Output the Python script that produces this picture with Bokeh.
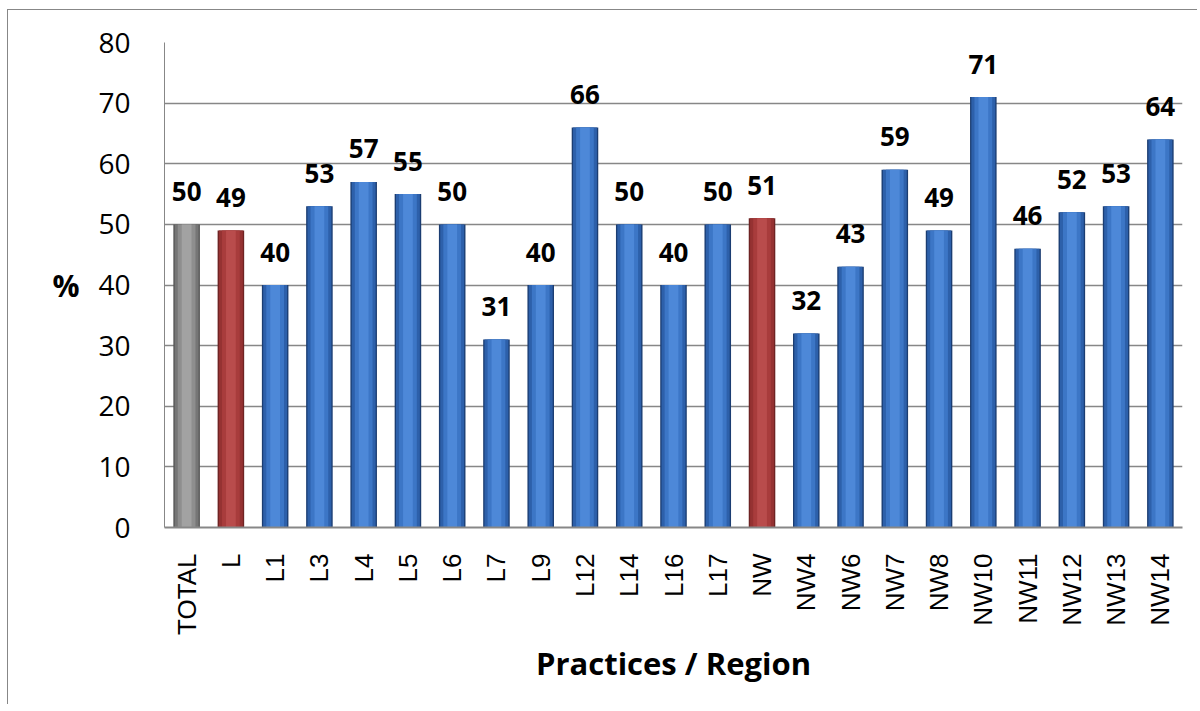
import math
from bokeh.plotting import figure
from bokeh.models import ColumnDataSource, FactorRange, Range1d, SingleIntervalTicker
from bokeh.core.properties import value
from bokeh.embed import file_html
from bokeh.resources import INLINE

categories = ["TOTAL", "L", "L1", "L3", "L4", "L5", "L6", "L7", "L9", "L12", "L14",
              "L16", "L17", "NW", "NW4", "NW6", "NW7", "NW8", "NW10", "NW11", "NW12",
              "NW13", "NW14"]
values = [50, 49, 40, 53, 57, 55, 50, 31, 40, 66, 50, 40, 50, 51, 32, 43, 59, 49,
          71, 46, 52, 53, 64]
groups = ["total", "region", "practice", "practice", "practice", "practice", "practice",
          "practice", "practice", "practice", "practice", "practice", "practice", "region",
          "practice", "practice", "practice", "practice", "practice", "practice",
          "practice", "practice", "practice"]

palette = {
    "total":    ("#555555", "#767676", "#8e8e8e", "#a2a2a2"),
    "region":   ("#6e2323", "#953232", "#a83c3c", "#b94c4c"),
    "practice": ("#1b3d72", "#2d60aa", "#3c76c6", "#4d88d8"),
}

src = ColumnDataSource(dict(
    cat=categories,
    val=values,
    lab=[str(v) for v in values],
    c0=[palette[g][0] for g in groups],
    c1=[palette[g][1] for g in groups],
    c2=[palette[g][2] for g in groups],
    c3=[palette[g][3] for g in groups],
))

p = figure(
    x_range=FactorRange(*categories),
    y_range=Range1d(0, 80),
    width=1190, height=695,
    output_backend="svg", toolbar_location=None,
    min_border_left=156, min_border_right=16,
    min_border_top=32, min_border_bottom=178,
)
p.styles = {"margin-left": "7px", "margin-top": "9px",
            "border-left": "1px solid #878787", "border-top": "1px solid #878787"}
p.outline_line_color = None
p.background_fill_color = "white"
p.border_fill_color = "white"

# bars: layered to imitate cylinder shading
p.vbar(x="cat", top="val", width=0.6, source=src, fill_color="c0", line_color=None)
p.vbar(x="cat", top="val", width=0.54, source=src, fill_color="c1", line_color=None)
p.vbar(x="cat", top="val", width=0.4, source=src, fill_color="c2", line_color=None)
p.vbar(x="cat", top="val", width=0.22, source=src, fill_color="c3", line_color=None)

p.text(x="cat", y="val", text="lab", source=src,
       text_font=value("Open Sans"), text_font_style="bold", text_font_size="26px",
       text_color="black", text_align="center", text_baseline="middle", y_offset=-33)

# axes
p.yaxis.ticker = SingleIntervalTicker(interval=10)
p.yaxis.axis_label = "%"
p.yaxis.axis_label_orientation = "horizontal"
p.yaxis.axis_label_text_font = "Open Sans"
p.yaxis.axis_label_text_font_style = "bold"
p.yaxis.axis_label_text_font_size = "30px"
p.yaxis.axis_label_text_color = "black"
p.yaxis.axis_label_standoff = 16
p.yaxis.major_label_text_font = "Open Sans"
p.yaxis.major_label_text_font_size = "28px"
p.yaxis.major_label_text_color = "black"
p.yaxis.major_label_standoff = 28
p.yaxis.major_tick_line_color = None
p.yaxis.minor_tick_line_color = None
p.yaxis.axis_line_color = "#878787"

p.xaxis.axis_label = "Practices / Region"
p.xaxis.axis_label_text_font = "Open Sans"
p.xaxis.axis_label_text_font_style = "bold"
p.xaxis.axis_label_text_font_size = "31px"
p.xaxis.axis_label_text_color = "black"
p.xaxis.axis_label_standoff = 4
p.xaxis.major_label_orientation = math.pi / 2
p.xaxis.major_label_text_font = "Liberation Sans"
p.xaxis.major_label_text_font_size = "26px"
p.xaxis.major_label_text_color = "black"
p.xaxis.major_label_standoff = 20
p.xaxis.major_tick_line_color = None
p.xaxis.axis_line_color = "#878787"
p.xaxis.axis_line_width = 2

p.xgrid.grid_line_color = None
p.ygrid.grid_line_color = "#878787"
p.ygrid.grid_line_width = 1.3

open("out.html", "w").write(file_html(p, INLINE))
